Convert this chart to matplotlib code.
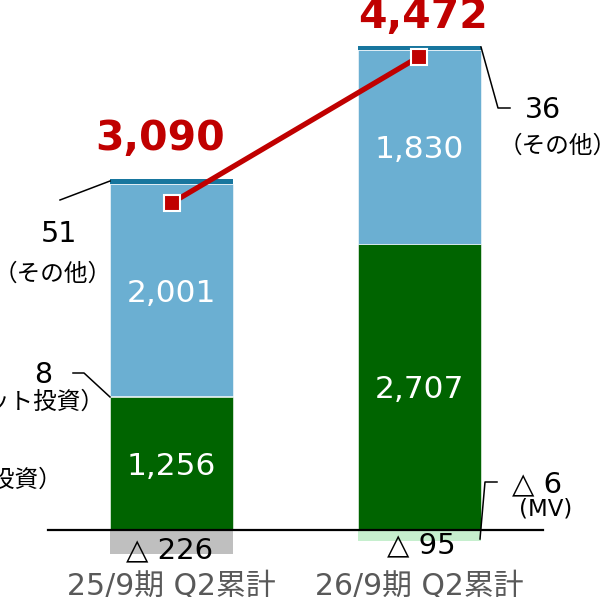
import matplotlib.pyplot as plt

plt.rcParams['font.family'] = ['DejaVu Sans', 'Noto Sans CJK JP']

periods = ['25/9期 Q2累計', '26/9期 Q2累計']
equity = [1256, 2707]        # green
unit_inv = [8, 0]            # thin segment
fund = [2001, 1830]          # blue
other = [51, 36]             # dark top band
negative = [-226, -95]
mv = [0, -6]
totals = [3090, 4472]

neg_colors = ['#BFBFBF', '#C6EFCE']
neg_labels = ['△ 226', '△ 95']

# scale: one pixel of the picture in data units
XS = 247.5
YS = 9.45


def px(x, y):
    # picture pixel -> data coords (used only for label placement)
    return (x - 171.5) / XS, (530 - y) * YS


fig = plt.figure(figsize=(6.04, 5.97), dpi=100)
ax = fig.add_axes([0, 0, 1, 1])
ax.set_xlim(-171.5 / XS, (604 - 171.5) / XS)
ax.set_ylim(-(597 - 530) * YS, 530 * YS)
ax.axis('off')

xs = range(len(periods))
w = 123 / XS

b0 = [0] * 2
ax.bar(xs, equity, w, bottom=b0, color='#006400', edgecolor='white', linewidth=0.4)
b1 = [a + b for a, b in zip(b0, equity)]
ax.bar(xs, unit_inv, w, bottom=b1, color='#DDEBF3', linewidth=0)
b2 = [a + b for a, b in zip(b1, unit_inv)]
ax.bar(xs, fund, w, bottom=b2, color='#6BAFD2', edgecolor='white', linewidth=0.4)
b3 = [a + b for a, b in zip(b2, fund)]
ax.bar(xs, other, w, bottom=b3, color='#17769E', linewidth=0)
ax.bar(xs, negative, w, color=neg_colors, linewidth=0, zorder=1)
ax.bar(xs, mv, w, bottom=negative, color='#C6EFCE', linewidth=0, zorder=1)

# baseline
ax.plot([px(48, 0)[0], px(543, 0)[0]], [0, 0], color='black', lw=1.6, zorder=3)

# inner value labels
for i in xs:
    ax.text(i, equity[i] / 2, f'{equity[i]:,}', color='white', fontsize=22.5,
            ha='center', va='center_baseline', zorder=5)
    ax.text(i, b2[i] + fund[i] / 2, f'{fund[i]:,}', color='white', fontsize=22.5,
            ha='center', va='center_baseline', zorder=5)

# total line
ax.plot(list(xs), totals, color='#C00000', lw=3.8, marker='s', markersize=12,
        markerfacecolor='#C00000', markeredgecolor='white', markeredgewidth=1.5,
        zorder=6)

ax.text(*px(160, 150), f'{totals[0]:,}', color='#C00000', fontsize=29.5,
        fontweight='bold', ha='center', va='baseline')
ax.text(*px(423, 28), f'{totals[1]:,}', color='#C00000', fontsize=29.5,
        fontweight='bold', ha='center', va='baseline')

# negative labels
ax.text(*px(170, 558), neg_labels[0], fontsize=21, ha='center', va='baseline', zorder=5)
ax.text(*px(421, 553), neg_labels[1], fontsize=21, ha='center', va='baseline', zorder=5)

# category labels
for i in xs:
    ax.text(i, px(0, 594)[1], periods[i], color='#595959', fontsize=21.5,
            ha='center', va='baseline')

# left callouts
lx, ly = zip(px(60, 200), px(110, 181))
ax.plot(lx, ly, color='black', lw=1.1)
ax.text(*px(59, 242), f'{other[0]}', fontsize=20.5, ha='center', va='baseline')
ax.text(*px(53, 281), '（その他）', fontsize=17, ha='center', va='baseline')

lx, ly = zip(px(73, 373), px(84, 373), px(110, 397))
ax.plot(lx, ly, color='black', lw=1.1)
ax.text(*px(43, 383), f'{unit_inv[0]}', fontsize=20.5, ha='center', va='baseline')
ax.text(*px(105, 409), '（ファンド・ユニット投資）', fontsize=17, ha='right', va='baseline')
ax.text(*px(62, 487), '（直接投資）', fontsize=17, ha='right', va='baseline')

# right callouts
lx, ly = zip(px(481, 47), px(498, 108), px(510, 108))
ax.plot(lx, ly, color='black', lw=1.1)
ax.text(*px(543, 118), f'{other[1]}', fontsize=20.5, ha='center', va='baseline')
ax.text(*px(558, 153), '（その他）', fontsize=17, ha='center', va='baseline')

lx, ly = zip(px(480, 539), px(485, 482), px(497, 482))
ax.plot(lx, ly, color='black', lw=1.1)
ax.text(*px(537, 492), f'△ {-mv[1]}', fontsize=21, ha='center', va='baseline')
ax.text(*px(546, 515), '(MV)', fontsize=16.5, ha='center', va='baseline')

fig.savefig('out.png', dpi=100)
